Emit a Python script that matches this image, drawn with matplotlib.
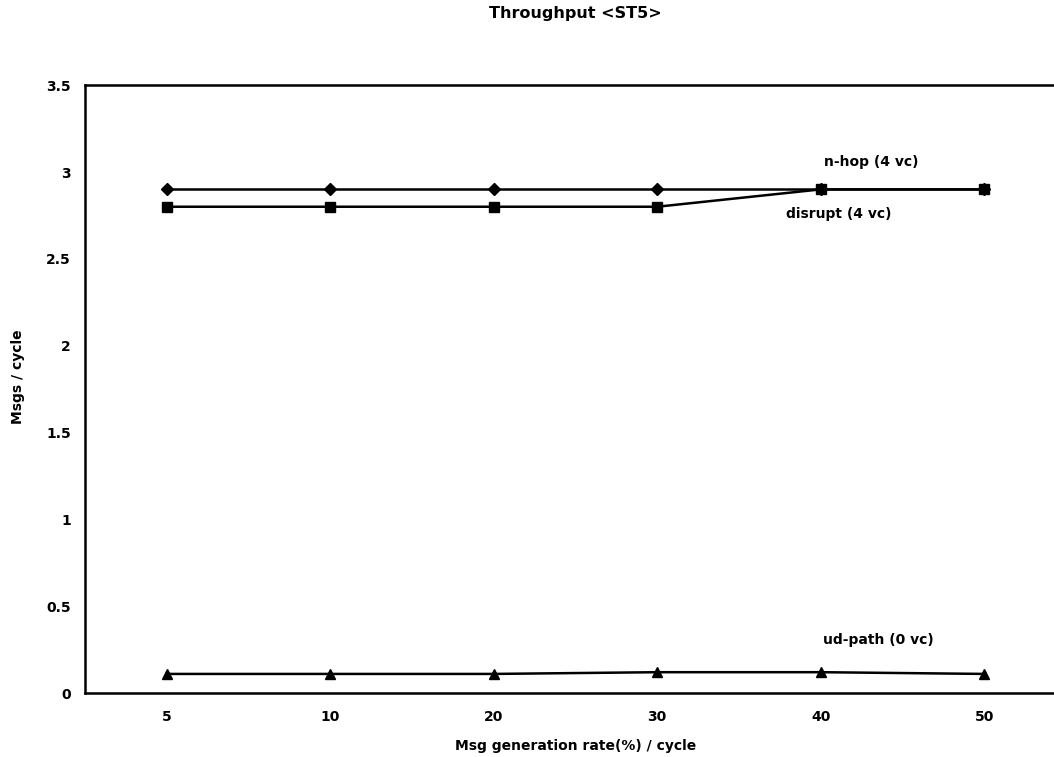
import numpy as np
import matplotlib.pyplot as plt

rates = ['5', '10', '20', '30', '40', '50']
nhop = [2.9, 2.9, 2.9, 2.9, 2.9, 2.9]
disrupt = [2.8, 2.8, 2.8, 2.8, 2.9, 2.9]
udpath = [0.11, 0.11, 0.11, 0.12, 0.12, 0.11]

plt.rcParams['font.family'] = 'DejaVu Sans'
plt.rcParams['font.weight'] = 'bold'

fig = plt.figure(figsize=(10.54, 7.57), dpi=100)
ax = fig.add_axes([0.0806, 0.0845, 0.9308, 0.803])

x = np.arange(len(rates))
ax.plot(x, nhop, color='k', lw=1.8, marker='D', ms=6)
ax.plot(x, disrupt, color='k', lw=1.8, marker='s', ms=7.5)
ax.plot(x, udpath, color='k', lw=1.8, marker='^', ms=7.5)

ax.text(4.31, 3.057, 'n-hop (4 vc)', ha='center', va='center', fontsize=10)
ax.text(4.11, 2.758, 'disrupt (4 vc)', ha='center', va='center', fontsize=10)
ax.text(4.35, 0.305, 'ud-path (0 vc)', ha='center', va='center', fontsize=10)

ax.set_xlim(-0.5, 5.5)
ax.set_ylim(0, 3.5)
ax.set_xticks(x)
ax.set_xticklabels(rates)
ax.set_yticks(np.arange(0, 3.51, 0.5))
ax.set_yticklabels(['0', '0.5', '1', '1.5', '2', '2.5', '3', '3.5'])
ax.tick_params(length=0, labelsize=10)
ax.tick_params(axis='y', pad=10)
ax.tick_params(axis='x', pad=12)
for s in ax.spines.values():
    s.set_linewidth(1.8)

ax.set_title('Throughput <ST5>', fontsize=11.5, fontweight='bold',
             y=1 + (85 - 22) / 608, va='center')
ax.set_xlabel('Msg generation rate(%) / cycle', fontsize=10, fontweight='bold')
ax.xaxis.set_label_coords(0.5, -(739 - 693) / 608)
ax.set_ylabel('Msgs / cycle', fontsize=10, fontweight='bold')
ax.yaxis.set_label_coords(-(85 - 25) / 981, 0.52)

fig.savefig('out.png', dpi=100)
